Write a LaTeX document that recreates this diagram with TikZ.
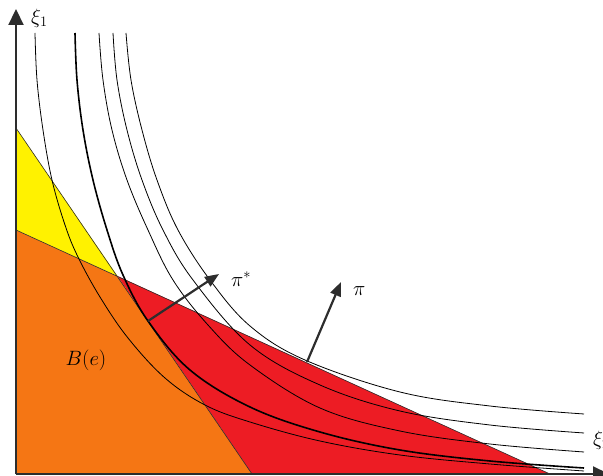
\documentclass[tikz,border=0pt]{standalone}
\usetikzlibrary{arrows.meta}
\definecolor{cyel}{RGB}{255,242,0}
\definecolor{corg}{RGB}{245,118,20}
\definecolor{cred}{RGB}{237,28,36}
\definecolor{cax}{RGB}{45,45,45}
\begin{document}
\begin{tikzpicture}[x=1pt,y=-1pt,
  region/.style={draw=cax,line width=0.6pt},
  icurve/.style={black,line width=0.8pt},
  icthick/.style={black,line width=1.6pt},
  axisline/.style={cax,line width=2.2pt,-{Triangle[width=15pt,length=16pt]}},
  normalarrow/.style={cax,line width=2.2pt,-{Triangle[width=11pt,length=14pt]}},
  lbl/.style={font=\fontsize{20}{24}\selectfont,inner sep=0pt}]
\useasboundingbox (0,0) rectangle (603,476);
\coordinate (O) at (16,474);
\coordinate (A1) at (16,128);
\coordinate (A2) at (16,230);
\coordinate (B1) at (252,474);
\coordinate (B2) at (550,474);
\coordinate (P) at (117.6,276.1);
% regions
\fill[corg] (O) -- (A2) -- (P) -- (B1) -- cycle;
\fill[cyel] (A1) -- (A2) -- (P) -- cycle;
\fill[cred] (P) -- (B2) -- (B1) -- cycle;
\draw[region] (A1) -- (B1);
\draw[region] (A2) -- (B2);
% indifference curves
\draw[icurve] plot[smooth,tension=0.6] coordinates {(35,33) (37,80) (43,130) (52,180) (65,225) (78,257) (100,297) (128,338) (165,378) (205,405) (250,422) (320,441) (400,455) (490,464) (584,471)};
\draw[icthick] plot[smooth,tension=0.6] coordinates {(75,33) (77,80) (83,130) (93,180) (107,230) (123,275) (148,321) (190,370) (250,407) (320,432) (400,450) (490,461) (584,468)};
\draw[icurve] plot[smooth,tension=0.6] coordinates {(99,33) (103,80) (112,130) (127,180) (148,230) (173,280) (208,325) (250,365) (320,408) (400,431) (490,444) (584,452)};
\draw[icurve] plot[smooth,tension=0.6] coordinates {(113,33) (117,80) (127,130) (142,180) (163,230) (193,280) (250,345) (320,385) (400,411) (490,425) (584,433)};
\draw[icurve] plot[smooth,tension=0.6] coordinates {(126,33) (131,80) (142,130) (157,180) (178,230) (210,280) (250,326) (305,360) (400,392) (490,406) (584,414)};
% axes
\coordinate (Ytop) at (16,9);
\coordinate (Xend) at (609,474);
\draw[axisline] (O) -- (Ytop);
\draw[axisline] (O) -- (Xend);
% normals
\coordinate (T1) at (148,321);
\coordinate (H1) at (219,274);
\coordinate (T2) at (307,362);
\coordinate (H2) at (341,282);
\draw[normalarrow] (T1) -- (H1);
\draw[normalarrow] (T2) -- (H2);
% labels
\node[lbl,anchor=west] (xi1) at (31,18) {$\xi_1$};
\node[lbl,anchor=west] (xi2) at (593,440) {$\xi_2$};
\node[lbl,anchor=west] (pistar) at (231,279) {$\pi^*$};
\node[lbl,anchor=west] (pi) at (353,291) {$\pi$};
\node[lbl] (Be) at (86,360) {$B(e)$};
\end{tikzpicture}
\end{document}
